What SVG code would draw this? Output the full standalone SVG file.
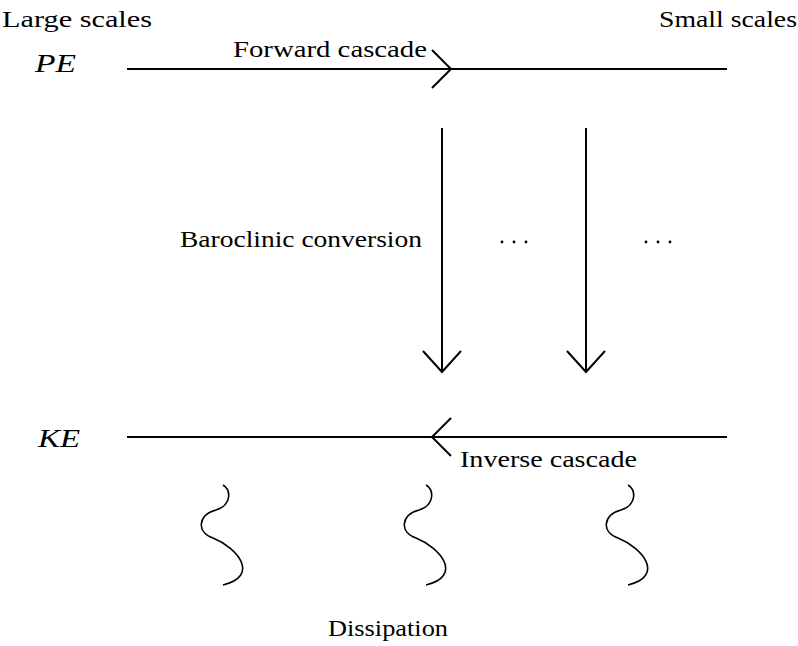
<svg xmlns="http://www.w3.org/2000/svg" xmlns:xlink="http://www.w3.org/1999/xlink" width="798" height="646" viewBox="0 0 798 646">
  <style>
    text { font-family: "Liberation Serif", "Times New Roman", serif; font-size: 24px; fill: #000; }
    .math { font-style: italic; font-size: 25px; }
    .line { stroke: #000; stroke-width: 2; fill: none; }
    .head { stroke: #000; stroke-width: 2; fill: none; stroke-linejoin: miter; }
    .wave { stroke: #000; stroke-width: 1.6; fill: none; }
  </style>
  <defs>
    <path id="squiggle" d="M223,485 C231,490 232,505 216,510 C198,515 196,532 213,538 C238,548 260,576 223,585"/>
  </defs>
  <rect width="798" height="646" fill="#fff"/>

  <g id="labels">
    <text x="2" y="27" textLength="150" lengthAdjust="spacingAndGlyphs">Large scales</text>
    <text x="659" y="27" textLength="138" lengthAdjust="spacingAndGlyphs">Small scales</text>
  </g>

  <g id="PE">
    <text class="math" x="35" y="72" textLength="41" lengthAdjust="spacingAndGlyphs">PE</text>
  </g>
  <g id="KE">
    <text class="math" x="38" y="447" textLength="42" lengthAdjust="spacingAndGlyphs">KE</text>
  </g>

  <g id="connectors">
    <g id="forward-cascade">
      <line class="line" x1="127" y1="69" x2="727" y2="69"/>
      <polyline class="head" points="432,50 451,69 432,88"/>
      <text x="233" y="57" textLength="194" lengthAdjust="spacingAndGlyphs">Forward cascade</text>
    </g>
    <g id="inverse-cascade">
      <line class="line" x1="127" y1="437" x2="727" y2="437"/>
      <polyline class="head" points="451,418 432,437 451,456"/>
      <text x="460" y="467" textLength="177" lengthAdjust="spacingAndGlyphs">Inverse cascade</text>
    </g>
    <g id="baroclinic-conversion">
      <line class="line" x1="442" y1="128" x2="442" y2="372"/>
      <polyline class="head" points="423,351 442,372 461,351"/>
      <text x="180" y="247" textLength="242" lengthAdjust="spacingAndGlyphs">Baroclinic conversion</text>
    </g>
    <g id="conversion-2">
      <line class="line" x1="586" y1="128" x2="586" y2="372"/>
      <polyline class="head" points="567,351 586,372 605,351"/>
    </g>
  </g>

  <g id="dots">
    <circle cx="502" cy="242" r="1.4"/>
    <circle cx="514" cy="242" r="1.4"/>
    <circle cx="526" cy="242" r="1.4"/>
    <circle cx="646" cy="242" r="1.4"/>
    <circle cx="658" cy="242" r="1.4"/>
    <circle cx="670" cy="242" r="1.4"/>
  </g>

  <g id="dissipation">
    <use xlink:href="#squiggle" class="wave"/>
    <use xlink:href="#squiggle" class="wave" transform="translate(203,0)"/>
    <use xlink:href="#squiggle" class="wave" transform="translate(405,0)"/>
    <text x="328" y="636" textLength="120" lengthAdjust="spacingAndGlyphs">Dissipation</text>
  </g>
</svg>
